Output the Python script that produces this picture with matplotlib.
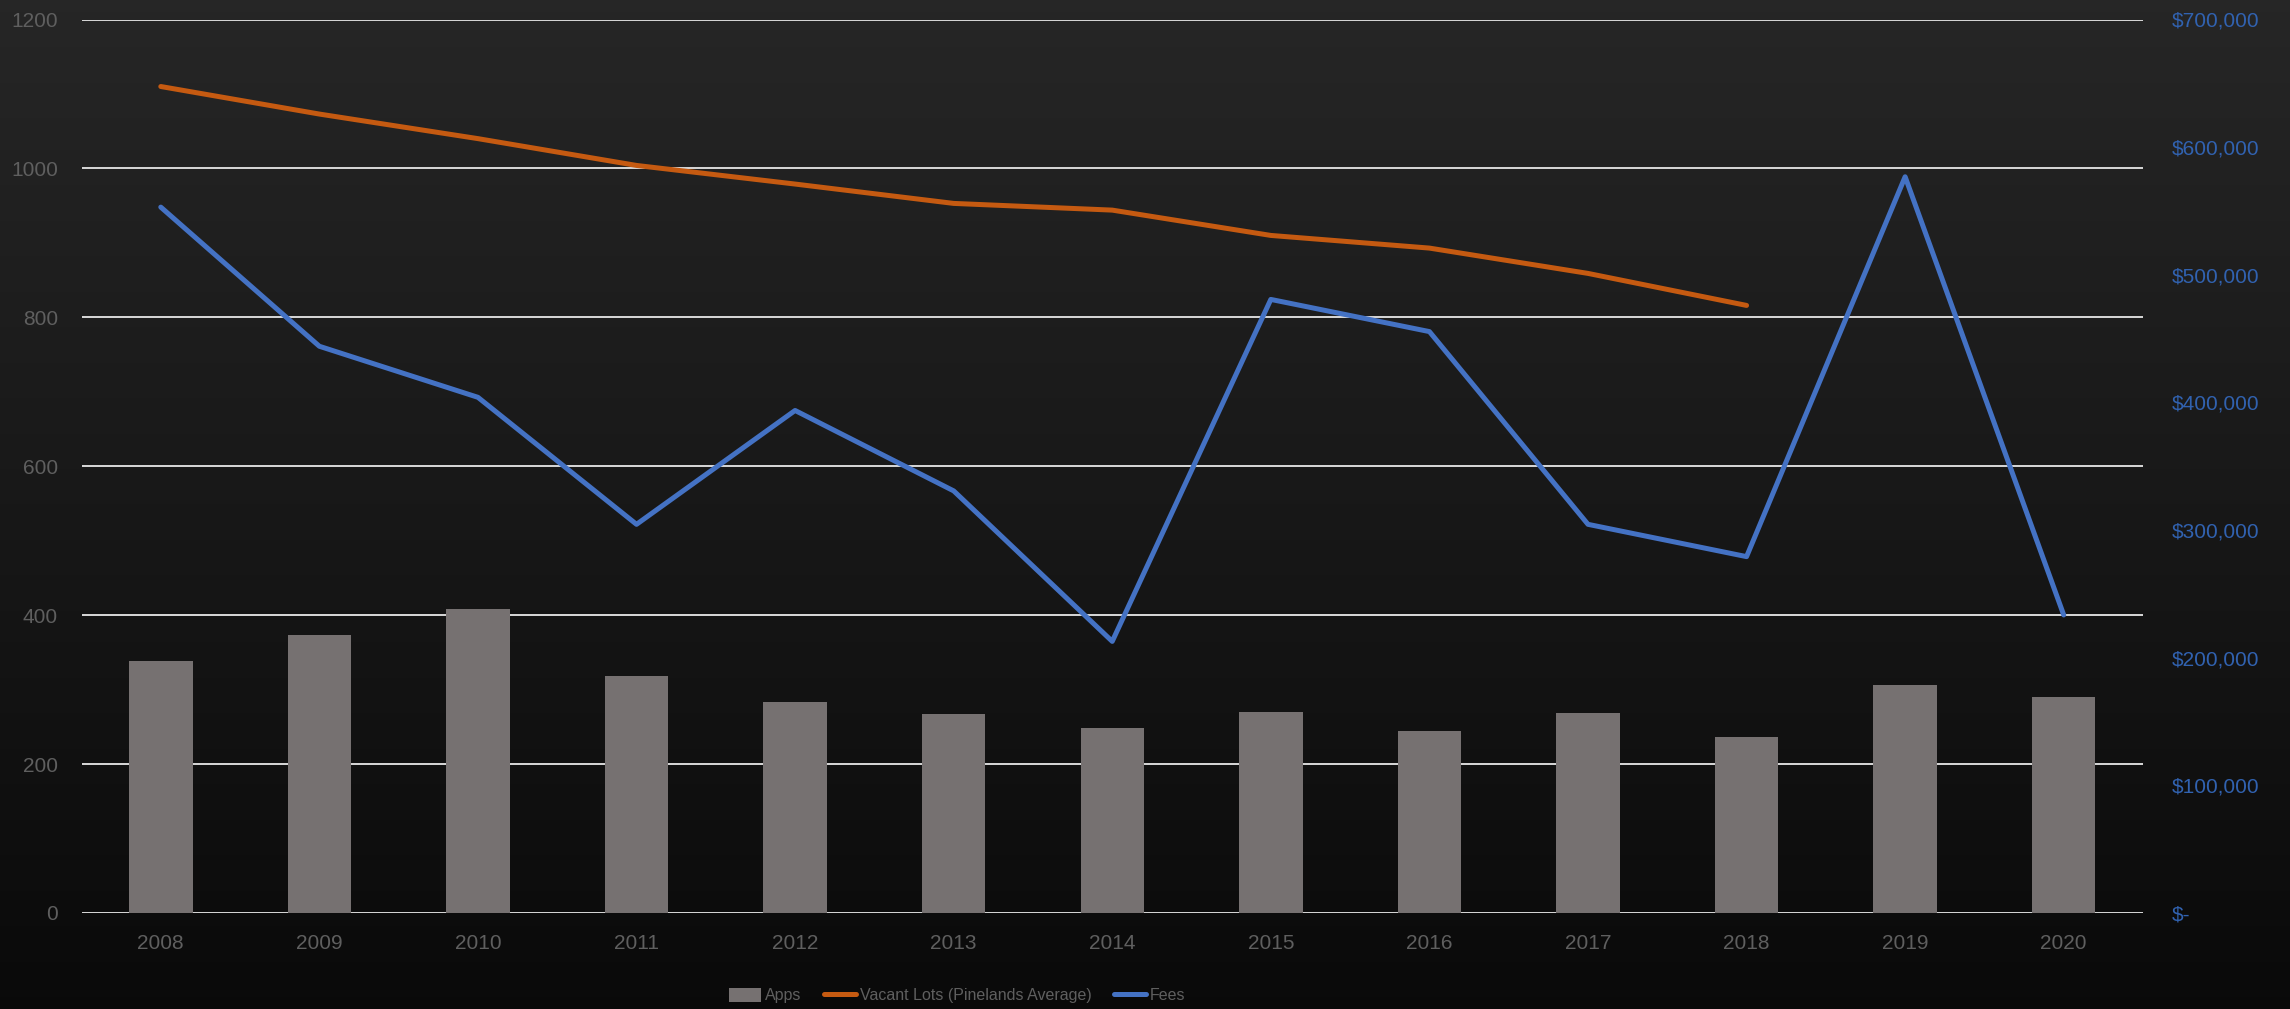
import matplotlib
matplotlib.use("Agg")
import matplotlib.pyplot as plt
from matplotlib.ticker import FuncFormatter, FixedLocator
import numpy as np

# Data
years = ["2008", "2009", "2010", "2011", "2012", "2013", "2014",
         "2015", "2016", "2017", "2018", "2019", "2020"]
apps = [339, 373, 408, 318, 284, 267, 248, 270, 245, 269, 237, 306, 290]
vacant_lots = [1110, 1073, 1040, 1004, 979, 953, 944, 910, 893, 859, 816]
fees = [553000, 444000, 404000, 304500, 393700, 330700, 212800,
        480700, 455500, 304500, 279200, 576800, 233500]

left_ticks = [0, 200, 400, 600, 800, 1000, 1200]
right_ticks = [0, 100000, 200000, 300000, 400000, 500000, 600000, 700000]

# Colours
BAR = "#767171"
ORANGE = "#C55A11"
BLUE = "#4472C4"
GRID = "#D9D9D9"
TICK_GREY = "#5F5F5F"
TICK_BLUE = "#3162B0"
FONT = ["Liberation Sans", "DejaVu Sans"]

W, H, DPI = 2290, 1009, 100
fig = plt.figure(figsize=(W / DPI, H / DPI), dpi=DPI)

# dark slate background with a soft vertical fade
bg = fig.add_axes([0, 0, 1, 1], zorder=-10)
grad = np.linspace(0, 1, 256)[:, None] * np.ones((1, 16))
top = np.array([0.150, 0.150, 0.150])
bot = np.array([0.038, 0.038, 0.038])
img = top[None, None, :] * (1 - grad[..., None]) + bot[None, None, :] * grad[..., None]
bg.imshow(img, aspect="auto", extent=[0, 1, 0, 1], origin="upper")
bg.set_axis_off()

left, right = 81.5 / W, 2143 / W
bottom, topy = 1 - 913 / H, 1 - 19.5 / H
ax = fig.add_axes([left, bottom, right - left, topy - bottom])
ax.set_facecolor("none")
ax2 = ax.twinx()

x = np.arange(len(years))
bars = ax.bar(x, apps, width=0.40, color=BAR, zorder=2, label="Apps")
(vl_line,) = ax.plot(np.arange(len(vacant_lots)), vacant_lots, color=ORANGE, lw=3.6,
                     solid_capstyle="round", solid_joinstyle="round", zorder=3,
                     label="Vacant Lots (Pinelands Average)")
(fee_line,) = ax2.plot(x, fees, color=BLUE, lw=3.6, solid_capstyle="round",
                       solid_joinstyle="round", label="Fees")

ax.set_xlim(-0.5, len(years) - 0.5)
ax.set_ylim(0, 1200)
ax2.set_ylim(0, 700000)

ax.yaxis.set_major_locator(FixedLocator(left_ticks))
ax2.yaxis.set_major_locator(FixedLocator(right_ticks))
ax.set_xticks(x)
ax.set_xticklabels(years)

ax.set_axisbelow(True)
ax.grid(axis="y", color=GRID, lw=1.4)
ax.grid(axis="x", visible=False)
ax2.grid(False)

for a in (ax, ax2):
    for s in a.spines.values():
        s.set_visible(False)

ax.tick_params(axis="both", length=0)
ax2.tick_params(axis="y", length=0)
ax.tick_params(axis="y", pad=17, labelcolor=TICK_GREY, labelsize=15)
ax.tick_params(axis="x", pad=15, labelcolor=TICK_GREY, labelsize=15)
ax2.tick_params(axis="y", pad=21, labelcolor=TICK_BLUE, labelsize=15)


def money(v, pos):
    if v == 0:
        return "$-"
    return "${:,.0f}".format(v)


ax2.yaxis.set_major_formatter(FuncFormatter(money))
for lab in ax.get_xticklabels() + ax.get_yticklabels() + ax2.get_yticklabels():
    lab.set_fontfamily(FONT)

leg = fig.legend([bars, vl_line, fee_line],
                 ["Apps", "Vacant Lots (Pinelands Average)", "Fees"],
                 loc="center", bbox_to_anchor=(0.418, 0.013), ncol=3, frameon=False,
                 prop=dict(family=FONT, size=11.5),
                 handlelength=2.0, handleheight=0.9, handletextpad=0.25,
                 columnspacing=1.4, labelcolor=TICK_GREY)

fig.savefig("out.png", dpi=DPI)
